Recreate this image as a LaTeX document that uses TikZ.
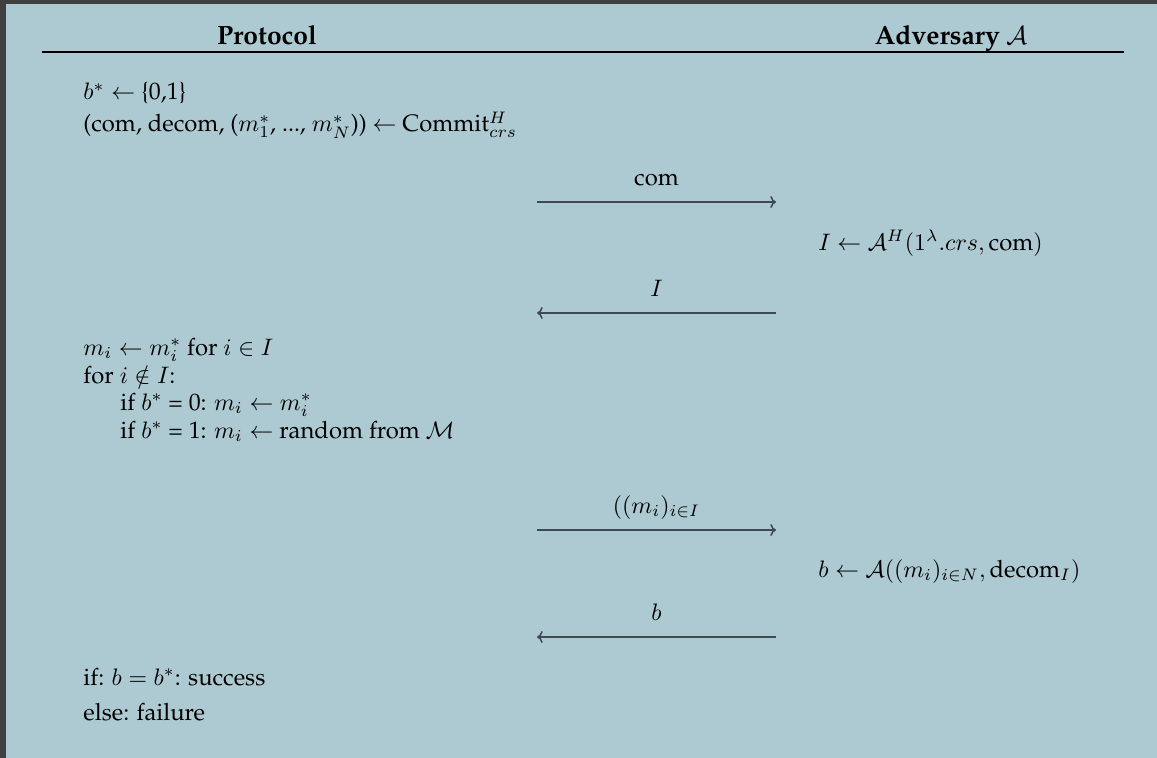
\documentclass[tikz,border=0pt]{standalone}
\usepackage{amsmath,amssymb}
\usepackage[T1]{fontenc}
\usepackage{palatino}
\usepackage{xcolor}
\usepackage{tikz}
\usetikzlibrary{arrows.meta}

\definecolor{panelbg}{HTML}{ADC9D1}
\definecolor{panelframe}{HTML}{404040}
\definecolor{msgline}{HTML}{3E4B50}

\begin{document}
\begin{tikzpicture}[x=0.01476cm, y=-0.01476cm,
    stepline/.style={anchor=base west, inner sep=0pt},
    partyhead/.style={anchor=base, inner sep=0pt, font=\fontsize{11.1}{13}\selectfont\bfseries},
    msg/.style={-{To[length=2.4pt,width=5pt]}, line width=0.65pt, draw=msgline},
    msglabel/.style={midway, anchor=base, inner sep=0pt, yshift=7.1pt}]
    % panel
    \useasboundingbox (0,0) rectangle (1157,758);
    \fill [panelbg] (0,0) rectangle (1157,758);
    \fill [panelframe] (0,0) rectangle (1157,4);
    \fill [panelframe] (0,0) rectangle (6,758);

    % header
    \node [partyhead] (prot) at (267,45) {Protocol};
    \node [partyhead] (adv) at (951,45) {Adversary $\mathcal{A}$};
    \draw [line width=0.6pt] (42,52) -- (1124,52);

    % protocol side
    \node [stepline] (bstar) at (83,100) {$b^* \leftarrow$ \{0,1\}};
    \node [stepline] (commit) at (83,132) {(com, decom, ($m_1^*$, ..., $m_N^*$)) $\leftarrow$ Commit$^H_{crs}$};
    \node [stepline] (keep) at (83,355) {$m_i \leftarrow m_i^*$ for $i \in I$};
    \node [stepline] (loop) at (83,383) {for $i \notin I$:};
    \node [stepline] (zero) at (120,410) {if $b^*$ = 0: $m_i \leftarrow m_i^*$};
    \node [stepline] (one) at (120,438) {if $b^*$ = 1: $m_i \leftarrow$ random from $\mathcal{M}$};
    \node [stepline] (win) at (83,685) {if: $b = b^*$: success};
    \node [stepline] (lose) at (83,720) {else: failure};

    % adversary side
    \node [stepline] (pick) at (818,250) {$I \leftarrow \mathcal{A}^H(1^\lambda.crs, \text{com})$};
    \node [stepline] (guess) at (818,577) {$b \leftarrow \mathcal{A}((m_i)_{i \in N}, \text{decom}_I)$};

    % messages
    \coordinate (com-l) at (537,202);  \coordinate (com-r) at (776,202);
    \coordinate (set-l) at (537,313);  \coordinate (set-r) at (776,313);
    \coordinate (open-l) at (537,530); \coordinate (open-r) at (776,530);
    \coordinate (bit-l) at (537,637);  \coordinate (bit-r) at (776,637);

    \draw [msg] (com-l) -- node [msglabel] {com} (com-r);
    \draw [msg] (set-r) -- node [msglabel] {$I$} (set-l);
    \draw [msg] (open-l) -- node [msglabel] {$((m_i)_{i \in I}$} (open-r);
    \draw [msg] (bit-r) -- node [msglabel] {$b$} (bit-l);
\end{tikzpicture}
\end{document}
